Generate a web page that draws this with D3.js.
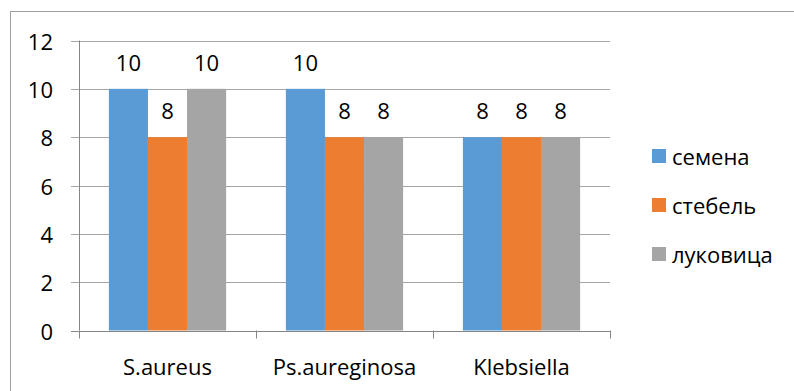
<!DOCTYPE html>
<html><head><meta charset="utf-8">
<script src="https://cdn.jsdelivr.net/npm/d3@7"></script>
<style>body{margin:0;background:#fff}svg{display:block}text{font-family:"Open Sans",Lato,sans-serif;fill:#000}</style>
</head><body>
<svg id="c" width="794" height="391"></svg>
<script>
const categories = ["S.aureus", "Ps.aureginosa", "Klebsiella"];
const seriesNames = ["семена", "стебель", "луковица"];
const semena = [10, 10, 8];
const stebel = [8, 8, 8];
const lukovica = [10, 8, 8];
const yTicks = [0, 2, 4, 6, 8, 10, 12];
const colors = ["#5b9bd5", "#ed7d31", "#a5a5a5"];

(function () {
const FS = 22;
const seriesValues = [semena, stebel, lukovica];
const svg = d3.select("#c");
svg.append("rect").attr("x", 10.5).attr("y", 11.5).attr("width", 800).attr("height", 400)
  .attr("fill", "#fff").attr("stroke", "#a0a0a0").attr("stroke-width", 1);

const pLeft = 79, pRight = 610, pTop = 40.5, pBottom = 330.5;
const x = d3.scaleBand().domain(categories).range([pLeft, pRight]);
const y = d3.scaleLinear().domain([0, 12]).range([pBottom, pTop]);
const inner = d3.scaleBand().domain(seriesNames).range([0, x.bandwidth()]).paddingOuter(0.765).paddingInner(0);

svg.append("g").selectAll("line").data(yTicks.filter(d => d > 0)).join("line")
  .attr("x1", pLeft - 8).attr("x2", pRight).attr("y1", d => Math.round(y(d)) + 0.5).attr("y2", d => Math.round(y(d)) + 0.5)
  .attr("stroke", "#a6a6a6").attr("stroke-width", 1);

seriesNames.forEach((s, i) => {
  svg.append("g").selectAll("rect").data(categories).join("rect")
    .attr("x", c => x(c) + inner(s)).attr("width", inner.bandwidth())
    .attr("y", (c, j) => y(seriesValues[i][j])).attr("height", (c, j) => y(0) - y(seriesValues[i][j]))
    .attr("fill", colors[i]);
  svg.append("g").selectAll("text").data(categories).join("text")
    .attr("x", c => x(c) + inner(s) + inner.bandwidth() / 2)
    .attr("y", (c, j) => y(seriesValues[i][j]) - 27)
    .attr("text-anchor", "middle").attr("dominant-baseline", "central")
    .attr("font-size", FS).text((c, j) => seriesValues[i][j]);
});

svg.append("line").attr("x1", pLeft + 0.5).attr("x2", pLeft + 0.5).attr("y1", pTop).attr("y2", pBottom)
  .attr("stroke", "#868686");
svg.append("line").attr("x1", pLeft - 8).attr("x2", pRight).attr("y1", Math.round(y(0)) + 0.5).attr("y2", Math.round(y(0)) + 0.5)
  .attr("stroke", "#868686");
const catTicks = categories.map(c => x(c)).concat([pRight]);
svg.append("g").selectAll("line").data(catTicks).join("line")
  .attr("x1", d => Math.round(d) + 0.5).attr("x2", d => Math.round(d) + 0.5)
  .attr("y1", pBottom).attr("y2", pBottom + 8).attr("stroke", "#868686");

svg.append("g").selectAll("text").data(yTicks).join("text")
  .attr("x", 53).attr("y", d => y(d)).attr("text-anchor", "end").attr("dominant-baseline", "central")
  .attr("font-size", FS).text(d => d);

svg.append("g").selectAll("text").data(categories).join("text")
  .attr("x", c => x(c) + x.bandwidth() / 2).attr("y", 366).attr("text-anchor", "middle")
  .attr("dominant-baseline", "central").attr("font-size", FS).text(c => c);

const lg = svg.append("g");
seriesNames.forEach((s, i) => {
  const cy = 156 + i * 49;
  lg.append("rect").attr("x", 652).attr("y", cy - 7).attr("width", 14).attr("height", 14).attr("fill", colors[i]);
  lg.append("text").attr("x", 672).attr("y", cy).attr("dominant-baseline", "central").attr("font-size", FS).text(s);
});
})();
</script>
</body></html>
